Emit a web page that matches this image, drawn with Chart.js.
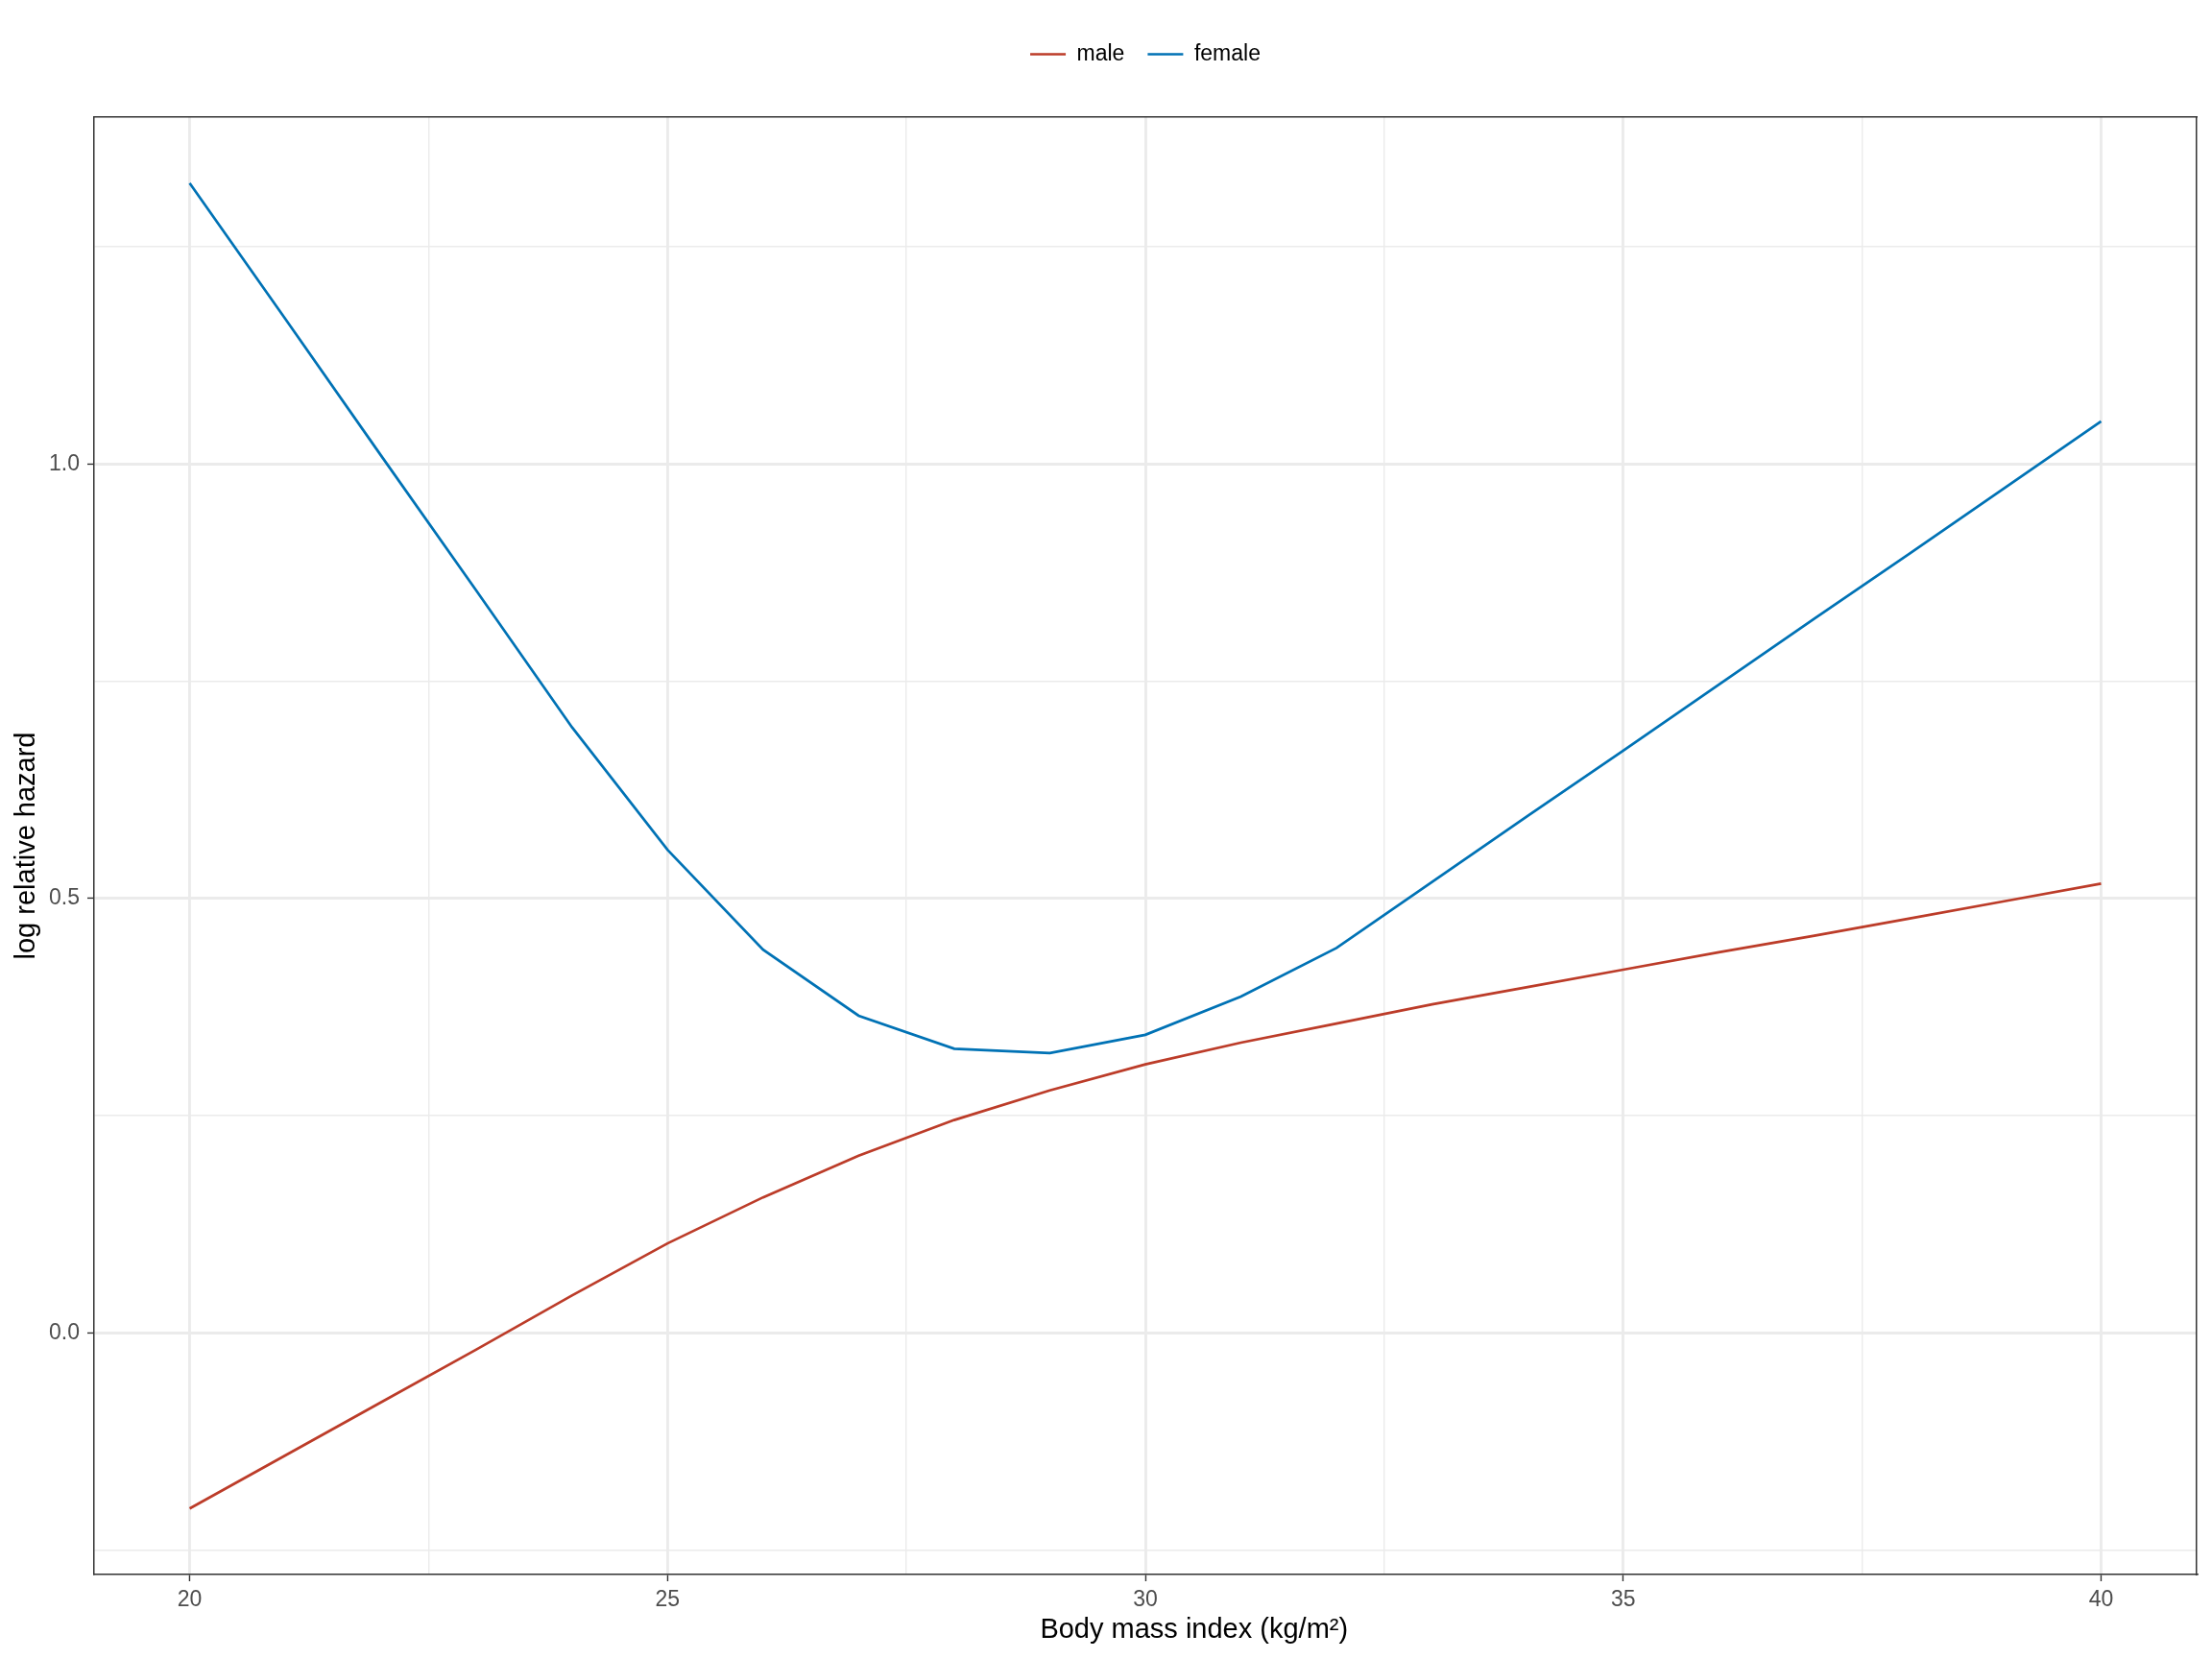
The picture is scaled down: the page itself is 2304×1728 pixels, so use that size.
<!DOCTYPE html>
<html>
<head>
<meta charset="utf-8">
<script src="https://cdn.jsdelivr.net/npm/chart.js@4.4.1/dist/chart.umd.min.js"></script>
<style>
  html, body { margin: 0; padding: 0; background: #fff; }
</style>
</head>
<body>
<canvas id="chart" width="2304" height="1728"></canvas>
<script>
// values
var bmi = [20, 21, 22, 23, 24, 25, 26, 27, 28, 29, 30, 31, 32, 33, 34, 35, 36, 37, 38, 39, 40];
var maleHazard = [-0.202, -0.141, -0.080, -0.019, 0.043, 0.103, 0.156, 0.204, 0.245, 0.279, 0.309,
                  0.334, 0.356, 0.378, 0.398, 0.418, 0.438, 0.457, 0.477, 0.497, 0.517];
var femaleHazard = [1.323, 1.167, 1.010, 0.854, 0.697, 0.556, 0.441, 0.365, 0.327, 0.322, 0.343,
                    0.387, 0.443, 0.519, 0.595, 0.670, 0.746, 0.822, 0.897, 0.973, 1.049];

var xTicks = [20, 22.5, 25, 27.5, 30, 32.5, 35, 37.5, 40];
var xLabels = [20, 25, 30, 35, 40];
var yTicks = [-0.25, 0, 0.25, 0.5, 0.75, 1, 1.25];
var yLabels = [0, 0.5, 1];

var FRAME = '#333333';
var GRID = '#EBEBEB';

Chart.defaults.font.family = '"Liberation Sans", Arial, Helvetica, sans-serif';

function points(values) {
    return bmi.map(function (b, i) { return { x: b, y: values[i] }; });
}

function gridFor(major) {
    return {
        color: GRID,
        lineWidth: function (c) { return c.tick && major.indexOf(c.tick.value) >= 0 ? 2.9 : 1.4; },
        tickColor: function (c) { return c.tick && major.indexOf(c.tick.value) >= 0 ? FRAME : 'rgba(0,0,0,0)'; },
        tickLength: 7,
        tickWidth: 1.4
    };
}

var chart = new Chart(document.getElementById('chart'), {
    type: 'line',
    data: {
        datasets: [
            {
                label: 'male',
                data: points(maleHazard),
                borderColor: '#BC3C29',
                backgroundColor: '#BC3C29',
                borderWidth: 2.7,
                pointRadius: 0,
                tension: 0
            },
            {
                label: 'female',
                data: points(femaleHazard),
                borderColor: '#0072B5',
                backgroundColor: '#0072B5',
                borderWidth: 2.7,
                pointRadius: 0,
                tension: 0
            }
        ]
    },
    options: {
        responsive: false,
        animation: false,
        devicePixelRatio: 1,
        layout: { padding: { top: 21, left: 0, right: 0, bottom: 0 } },
        plugins: {
            tooltip: { enabled: false },
            legend: {
                position: 'top',
                fullSize: false,
                labels: {
                    usePointStyle: true,
                    pointStyle: 'line',
                    pointStyleWidth: 37,
                    padding: 24,
                    color: '#000000',
                    font: { size: 23 }
                }
            }
        },
        scales: {
            x: {
                type: 'linear',
                min: 19,
                max: 41,
                afterBuildTicks: function (s) { s.ticks = xTicks.map(function (v) { return { value: v }; }); },
                afterFit: function (s) { s.height = 88; },
                grid: gridFor(xLabels),
                border: { color: FRAME, width: 1.5 },
                ticks: {
                    autoSkip: false,
                    maxRotation: 0,
                    padding: 6,
                    color: '#4D4D4D',
                    font: { size: 23 },
                    callback: function (v) { return xLabels.indexOf(v) >= 0 ? String(v) : ''; }
                },
                title: {
                    display: true,
                    // leading em spaces push the centred title right, as in the reference
                    text: '\u2003\u2003\u2003\u2002Body mass index (kg/m²)',
                    color: '#000000',
                    font: { size: 29 },
                    padding: { top: 0, bottom: 13 }
                }
            },
            y: {
                type: 'linear',
                min: -0.278,
                max: 1.399,
                afterBuildTicks: function (s) { s.ticks = yTicks.map(function (v) { return { value: v }; }); },
                afterFit: function (s) { s.width = 98; },
                grid: gridFor(yLabels),
                border: { color: FRAME, width: 1.5 },
                ticks: {
                    autoSkip: false,
                    padding: 8,
                    color: '#4D4D4D',
                    font: { size: 23 },
                    callback: function (v) { return yLabels.indexOf(v) >= 0 ? v.toFixed(1) : ''; }
                },
                title: {
                    display: true,
                    text: 'log relative hazard',
                    color: '#000000',
                    font: { size: 29 },
                    padding: { top: 11, bottom: 0 }
                }
            },
            // empty axes that close the panel frame at top and right
            x2: {
                type: 'linear',
                position: 'top',
                afterFit: function (s) { s.height = 44; },
                grid: { display: false },
                ticks: { display: false },
                border: { color: FRAME, width: 1.5 }
            },
            y2: {
                type: 'linear',
                position: 'right',
                afterFit: function (s) { s.width = 16; },
                grid: { display: false },
                ticks: { display: false },
                border: { color: FRAME, width: 1.5 }
            }
        }
    }
});
</script>
</body>
</html>
